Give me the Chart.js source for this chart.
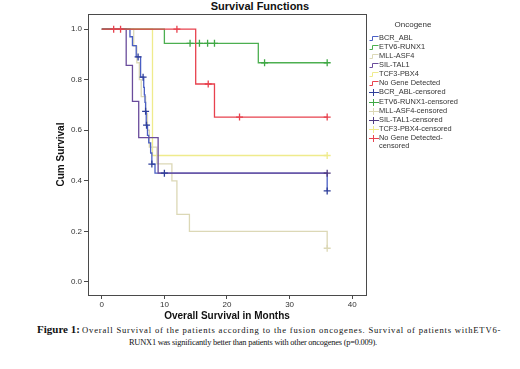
<!DOCTYPE html>
<html>
<head>
<meta charset="utf-8">
<script src="https://cdn.jsdelivr.net/npm/chart.js@4.4.1/dist/chart.umd.min.js"></script>
<style>
  body{margin:0;width:520px;height:369px;background:#fff;position:relative;overflow:hidden;font-family:"Liberation Sans",Arial,sans-serif;}
  #title{position:absolute;top:0;left:0;width:520px;text-align:center;font:bold 11px "Liberation Sans",Arial,sans-serif;line-height:13px;color:#111;}
  #c{position:absolute;left:0;top:0;}
  #legend{position:absolute;left:369px;top:19px;width:150px;font:7.4px "Liberation Sans",Arial,sans-serif;color:#333;}
  #legend .lt{position:absolute;left:4px;top:1px;width:80px;text-align:center;font-size:8px;}
  #legend .it{position:absolute;left:0;height:9px;line-height:9px;white-space:nowrap;}
  #legend svg{position:absolute;left:0;top:0;}
  #legend span{position:absolute;left:10px;top:0;line-height:8.2px;}
  .cap{position:absolute;font:8.6px "Liberation Serif","Times New Roman",serif;color:#111;white-space:nowrap;line-height:12px;}
  .cap b{font-size:11px;}
  #cap2{font-size:8.4px;}
</style>
</head>
<body>
<div id="title">Survival Functions</div>
<canvas id="c" width="520" height="322"></canvas>
<div id="legend"></div>
<div class="cap" id="cap1" style="left:37px;top:323px;"><b id="fig">Figure 1:</b> <span id="t1">Overall Survival of the patients according to the fusion oncogenes. Survival of patients withETV6-</span></div>
<div class="cap" id="cap2" style="left:129px;top:337px;"><span id="t2">RUNX1 was significantly better than patients with other oncogenes (p=0.009).</span></div>
<script>
// ---- data (months, cumulative survival) ----
const seriesNames = ["BCR_ABL", "ETV6-RUNX1", "MLL-ASF4", "SIL-TAL1", "TCF3-PBX4", "No Gene Detected"];
const seriesColors = ["#4a5fc4", "#4caf50", "#dcd8b6", "#6a4c9c", "#efeb8c", "#e8424e"];
const censorColors = ["#2f3f9a", "#3fa845", "#dcd8b6", "#4f3a80", "#efeb8c", "#e8424e"];

const bcrAblTimes  = [0, 4.5, 4.9, 5.5, 6.2, 6.7, 6.8, 6.9, 7.0, 7.1, 7.3, 7.5, 7.8, 8.0, 8.5, 36];
const bcrAblSurv   = [1, 0.97, 0.935, 0.89, 0.81, 0.77, 0.74, 0.71, 0.675, 0.62, 0.58, 0.55, 0.51, 0.466, 0.43, 0.36];
const bcrAblCensT  = [5.8, 6.6, 7.0, 7.15, 8.0, 10, 36];
const bcrAblCensS  = [0.89, 0.81, 0.675, 0.62, 0.466, 0.43, 0.36];

const etvTimes     = [0, 10, 25, 36];
const etvSurv      = [1, 0.944, 0.867, 0.867];
const etvCensT     = [14.1, 15.6, 16.9, 18, 26, 36];
const etvCensS     = [0.944, 0.944, 0.944, 0.944, 0.867, 0.867];

const mllTimes     = [0, 5.1, 5.6, 6.0, 6.3, 7.0, 7.3, 7.6, 8.8, 11.2, 12.0, 14.0, 36];
const mllSurv      = [1, 0.933, 0.867, 0.8, 0.733, 0.667, 0.6, 0.533, 0.467, 0.4, 0.267, 0.2, 0.133];
const mllCensT     = [36];
const mllCensS     = [0.133];

const silTimes     = [0, 3.9, 4.9, 5.9, 9.0, 36];
const silSurv      = [1, 0.857, 0.714, 0.571, 0.43, 0.43];
const silCensT     = [36];
const silCensS     = [0.43];

const tcfTimes     = [0, 8.1, 36];
const tcfSurv      = [1, 0.5, 0.5];
const tcfCensT     = [36];
const tcfCensS     = [0.5];

const ngdTimes     = [0, 15, 18, 36];
const ngdSurv      = [1, 0.783, 0.652, 0.652];
const ngdCensT     = [1.9, 3.0, 12, 17, 22, 36];
const ngdCensS     = [1, 1, 1, 0.783, 0.652, 0.652];

const xTicks = [0, 10, 20, 30, 40];
const yTicks = [0.0, 0.2, 0.4, 0.6, 0.8, 1.0];

const lineTimes = [bcrAblTimes, etvTimes, mllTimes, silTimes, tcfTimes, ngdTimes];
const lineSurv  = [bcrAblSurv, etvSurv, mllSurv, silSurv, tcfSurv, ngdSurv];
const censT = [bcrAblCensT, etvCensT, mllCensT, silCensT, tcfCensT, ngdCensT];
const censS = [bcrAblCensS, etvCensS, mllCensS, silCensS, tcfCensS, ngdCensS];

const zip = (a, b) => a.map((v, i) => ({x: v, y: b[i]}));
const drawOrder = [3, 1, 4, 2, 5, 0]; // lower drawn on top

const datasets = [];
seriesNames.forEach((n, i) => {
  datasets.push({
    label: n, data: zip(lineTimes[i], lineSurv[i]), stepped: 'before',
    borderColor: seriesColors[i], borderWidth: 1.3, pointRadius: 0, fill: false,
    order: drawOrder[i] + 10
  });
});
seriesNames.forEach((n, i) => {
  datasets.push({
    label: n + "-censored", data: zip(censT[i], censS[i]), showLine: false,
    pointStyle: 'cross', pointRadius: 3.5, pointBorderWidth: 1.3,
    borderColor: censorColors[i], backgroundColor: censorColors[i],
    order: drawOrder[i]
  });
});

const framePlugin = {
  id: 'frame',
  afterDatasetsDraw(chart) {
    const {ctx, chartArea: a} = chart;
    ctx.save();
    ctx.strokeStyle = '#4a4a4a';
    ctx.lineWidth = 1;
    ctx.strokeRect(Math.round(a.left) + 0.5, Math.round(a.top) + 0.5, Math.round(a.right - a.left), Math.round(a.bottom - a.top));
    ctx.restore();
  }
};

new Chart(document.getElementById('c'), {
  type: 'line',
  data: { datasets },
  options: {
    responsive: false, devicePixelRatio: 1, animation: false,
    layout: { padding: { top: 14, right: 154, left: 0, bottom: 0 } },
    plugins: { legend: { display: false }, title: { display: false }, tooltip: { enabled: false } },
    scales: {
      x: {
        type: 'linear', min: -2.2, max: 42.2,
        afterBuildTicks: s => { s.ticks = xTicks.map(v => ({value: v})); },
        afterFit: s => { s.height = 27; },
        ticks: { color: '#333', font: { size: 8, family: 'Liberation Sans' }, padding: 1, maxRotation: 0, callback: v => String(v) },
        grid: { drawOnChartArea: false, drawTicks: true, tickLength: 4, color: '#4a4a4a' },
        border: { display: true, color: '#4a4a4a' },
        title: { display: true, text: 'Overall Survival in Months', color: '#111', font: { size: 10, weight: 'bold', family: 'Liberation Sans' }, padding: { top: 0, bottom: 0 } }
      },
      y: {
        type: 'linear', min: -0.052, max: 1.06,
        afterBuildTicks: s => { s.ticks = yTicks.map(v => ({value: v})); },
        afterFit: s => { s.width = 88; },
        ticks: { color: '#333', font: { size: 8, family: 'Liberation Sans' }, padding: 2, callback: v => Number(v).toFixed(1) },
        grid: { drawOnChartArea: false, drawTicks: true, tickLength: 4, color: '#4a4a4a' },
        border: { display: true, color: '#4a4a4a' },
        title: { display: true, text: 'Cum Survival', color: '#111', font: { size: 10, weight: 'bold', family: 'Liberation Sans' }, padding: { top: 55, bottom: 0 } }
      }
    }
  },
  plugins: [framePlugin]
});

// ---- legend ----
const leg = document.getElementById('legend');
const lt = document.createElement('div'); lt.className = 'lt'; lt.textContent = 'Oncogene'; leg.appendChild(lt);
const rowH = 9.1, firstRow = 14.8;
const entries = [];
seriesNames.forEach((n, i) => entries.push({text: n, color: seriesColors[i], kind: 'line'}));
seriesNames.forEach((n, i) => entries.push({text: n + "-censored", color: censorColors[i], kind: 'cens'}));
entries.forEach((e, k) => {
  const d = document.createElement('div'); d.className = 'it';
  d.style.top = (firstRow + k * rowH) + 'px';
  let icon;
  if (e.kind === 'line') {
    icon = `<svg width="10" height="9"><path d="M0.5,6.5 H3.5 V2.5 H9.5" fill="none" stroke="${e.color}" stroke-width="1"/></svg>`;
  } else {
    icon = `<svg width="10" height="9"><path d="M0,4.5 H10 M4.5,1 V8" fill="none" stroke="${e.color}" stroke-width="1"/></svg>`;
  }
  let label = e.text;
  if (label === 'No Gene Detected-censored') label = 'No Gene Detected-<br>censored';
  d.innerHTML = icon + `<span>${label}</span>`;
  leg.appendChild(d);
});

// ---- caption fitting (justified first line) ----
function fit(span, target) {
  const w = span.getBoundingClientRect().width;
  const n = span.textContent.length;
  span.style.letterSpacing = ((target - w) / n) + 'px';
}
const fig = document.getElementById('fig');
const figW = fig.getBoundingClientRect().width;
fit(document.getElementById('t1'), 502 - 37 - figW - 3);
fit(document.getElementById('t2'), 377 - 129);
</script>
</body>
</html>
